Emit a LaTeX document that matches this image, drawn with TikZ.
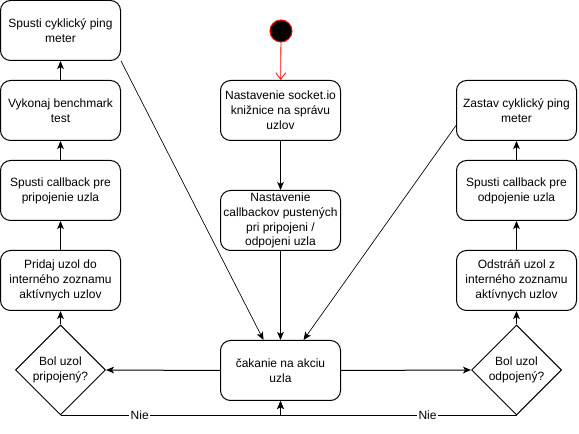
\documentclass[tikz,border=0pt]{standalone}
\usepackage{fontspec}
\setmainfont{Liberation Sans}
\usetikzlibrary{arrows.meta,shapes.geometric,calc}
\begin{document}
\begin{tikzpicture}[x=0.75pt,y=-0.75pt,
  font=\fontsize{9}{11.2}\selectfont,
  line width=0.75pt,
  stepbox/.style={draw, rounded corners=7.5pt, minimum width=90pt, minimum height=45pt, align=center, inner sep=0pt},
  decision/.style={draw, diamond, shape aspect=1, minimum width=67.5pt, minimum height=67.5pt, align=center, inner sep=0pt},
  arr/.style={-{Stealth[length=6pt,width=5pt,inset=1.5pt]}},
  thinarr/.style={line width=0.5pt,-{Stealth[length=6pt,width=5pt,inset=1.5pt]}},
  redarr/.style={draw=red, line width=0.6pt, -{Straight Barb[length=5pt,width=7.5pt]}},
  lbl/.style={fill=white, inner sep=1pt}
]
\useasboundingbox (0,0) rectangle (579,434);

% left column
\node[stepbox] (b1) at (60.5,30.5) {Spusti cyklický ping\\meter};
\node[stepbox] (b2) at (60.5,110.5) {Vykonaj benchmark\\test};
\node[stepbox] (b3) at (60.5,190.5) {Spusti callback pre\\pripojenie uzla};
\node[stepbox] (b4) at (60.5,280.5) {Pridaj uzol do\\interného zoznamu\\aktívnych uzlov};
\node[decision] (d1) at (60.5,370) {Bol uzol\\pripojený?};

% centre column
\node[circle, draw=red, fill=black, minimum size=16.5pt, inner sep=0pt] (start) at (281,31) {};
\node[stepbox] (c1) at (280.5,110.5) {Nastavenie socket.io\\knižnice na správu\\uzlov};
\node[stepbox] (c2) at (280.5,220.5) {Nastavenie\\callbackov pustených\\pri pripojeni /\\odpojeni uzla};
\node[stepbox] (w) at (280.5,370.5) {čakanie na akciu\\uzla};

% right column
\node[stepbox] (r1) at (516.5,110.5) {Zastav cyklický ping\\meter};
\node[stepbox] (r2) at (516.5,190.5) {Spusti callback pre\\odpojenie uzla};
\node[stepbox] (r3) at (516.5,280.5) {Odstráň uzol z\\interného zoznamu\\aktívnych uzlov};
\node[decision] (d2) at (516.5,370) {Bol uzol\\odpojený?};

% connectors
\draw[redarr] (start) -- (c1);
\draw[arr] (c1) -- (c2);
\draw[arr] (c2) -- (w);

\draw[arr] (b2) -- (b1);
\draw[arr] (b3) -- (b2);
\draw[arr] (b4) -- (b3);
\draw[arr] (d1) -- (b4);

\draw[arr] (r2) -- (r1);
\draw[arr] (r3) -- (r2);
\draw[arr] (d2) -- (r3);

\draw[arr] (w.west) -- (d1.east);
\draw[arr] (w.east) -- (d2.west);

\draw[thinarr] (b1.south east) -- ($(w.north)+(-17,0)$);
\draw[thinarr] ($(r1.west)+(0,15)$) -- ($(w.north)+(23,0)$);

\draw[arr] (d1.south) -- (d1.south -| w.south) node[lbl, pos=0.36] {Nie} -- (w.south);
\draw[arr] (d2.south) -- (d2.south -| w.south) node[lbl, pos=0.377] {Nie} -- (w.south);
\end{tikzpicture}
\end{document}
